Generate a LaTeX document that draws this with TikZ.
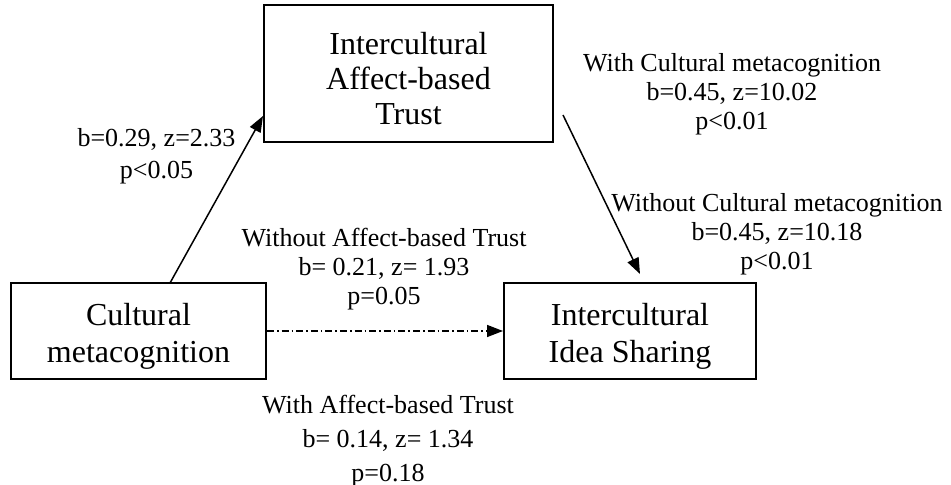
\documentclass[tikz,border=0pt]{standalone}
\usepackage{fontspec}
\setmainfont{Liberation Serif}
\usetikzlibrary{arrows.meta}
\tikzstyle{var}=[draw=black,line width=1pt,align=center,font=\fontsize{16}{18.5}\selectfont,inner sep=0]
\tikzstyle{est}=[align=center,font=\fontsize{13}{14.5}\selectfont,inner sep=0]
\tikzset{arr/.style={line width=0.75pt,-{Triangle[length=8pt,width=6pt]}}}
\tikzset{dashdot/.style={arr,dash pattern=on 3.5pt off 1.5pt on 0.8pt off 1.5pt}}
\newcommand{\topgap}[1]{\rule{0pt}{#1}}

\begin{document}
\begin{tikzpicture}[x=0.5pt,y=-0.5pt]
\useasboundingbox (0,0) rectangle (951,485);

\node[var,font=\fontsize{16}{17.5}\selectfont,minimum width=144.5pt,minimum height=68.5pt] (trust) at (408.5,73.5) {\topgap{15.8pt}Intercultural\\Affect-based\\Trust};
\node[var,minimum width=127.5pt,minimum height=48pt] (cm) at (138.5,331) {\topgap{16.3pt}Cultural\\metacognition};
\node[var,minimum width=126pt,minimum height=48pt] (share) at (630,331) {\topgap{16.3pt}Intercultural\\Idea Sharing};

\coordinate (a1) at (170,283);
\coordinate (a2) at (263,116);
\coordinate (b1) at (563,115);
\coordinate (b2) at (640,274);

\draw[arr] (a1) -- (a2);
\draw[arr] (b1) -- (b2);
\draw[dashdot] (cm) -- (share);

\node[est] (l1) at (156.5,156) {b=0.29, z=2.33\\[1.5pt]p<0.05};
\node[est] (l2) at (732,94) {With Cultural metacognition\\b=0.45, z=10.02\\p<0.01};
\node[est] (l3) at (777,234) {Without Cultural metacognition\\b=0.45, z=10.18\\p<0.01};
\node[est] (l4) at (384,269) {Without Affect-based Trust\\b= 0.21, z= 1.93\\p=0.05};
\node[est] (l5) at (388,441) {With Affect-based Trust\\[2.5pt]b= 0.14, z= 1.34\\[2.5pt]p=0.18};

\end{tikzpicture}
\end{document}
